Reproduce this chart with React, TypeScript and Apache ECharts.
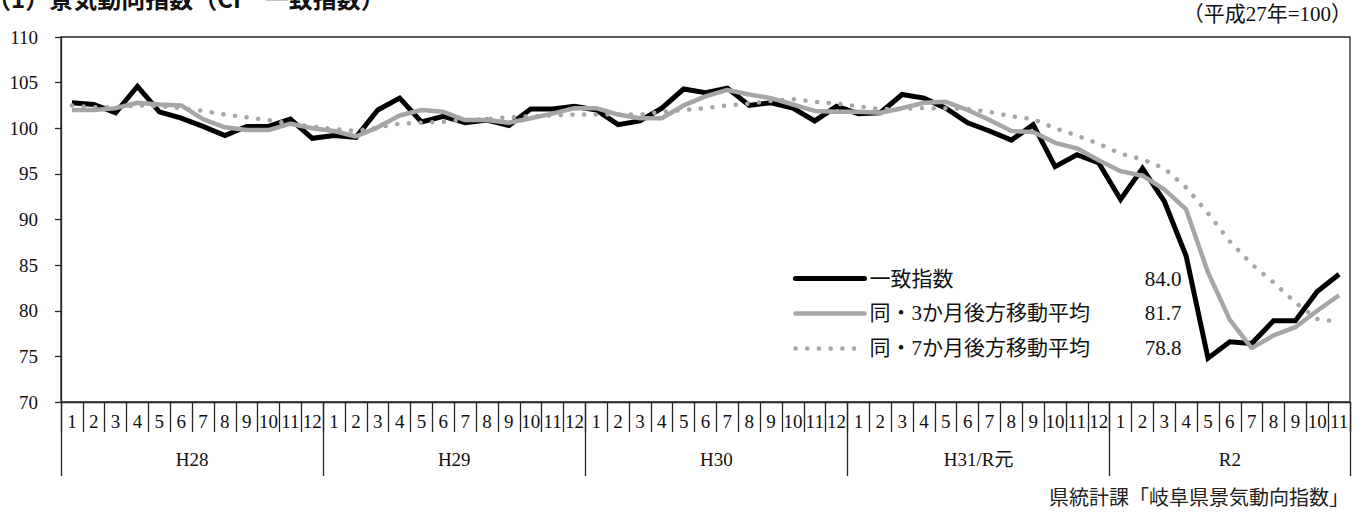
import React, { useEffect, useRef } from "react";
import * as echarts from "echarts";

// ---- data ----
const years = ["H28", "H29", "H30", "H31/R元", "R2"];
const monthsPerYear = [12, 12, 12, 12, 11];
const monthLabels: string[] = monthsPerYear.flatMap((n) =>
  Array.from({ length: n }, (_, k) => String(k + 1))
);

const seriesNames = ["一致指数", "同・3か月後方移動平均", "同・7か月後方移動平均"];

// CI coincident index
const ci = [
  102.8, 102.6, 101.7, 104.6, 101.8, 101.1, 100.2, 99.2, 100.2, 100.2, 101.0, 98.9,
  99.2, 99.0, 102.0, 103.3, 100.7, 101.3, 100.6, 100.9, 100.3, 102.1, 102.1, 102.4,
  102.0, 100.4, 100.8, 102.2, 104.3, 103.9, 104.4, 102.5, 102.8, 102.2, 100.8, 102.4,
  101.6, 101.7, 103.7, 103.3, 102.2, 100.6, 99.7, 98.7, 100.4, 95.8, 97.1, 96.2,
  92.2, 95.6, 92.0, 86.0, 74.8, 76.6, 76.4, 78.9, 78.9, 82.1, 84.0,
];
// 3-month backward moving average
const ma3 = [
  102.0, 102.0, 102.2, 102.8, 102.6, 102.5, 101.0, 100.1, 99.8, 99.8, 100.5, 100.0,
  99.7, 99.1, 100.1, 101.4, 102.0, 101.8, 100.9, 100.9, 100.6, 101.1, 101.6, 102.2,
  102.2, 101.5, 101.1, 101.1, 102.5, 103.5, 104.2, 103.7, 103.3, 102.6, 101.9, 101.8,
  101.8, 101.7, 102.2, 102.8, 102.9, 102.0, 100.9, 99.7, 99.6, 98.4, 97.8, 96.5,
  95.3, 94.8, 93.3, 91.1, 84.2, 79.0, 75.9, 77.3, 78.2, 80.0, 81.7,
];
// 7-month backward moving average
const ma7 = [
  102.5, 102.3, 102.3, 102.5, 102.4, 102.2, 101.9, 101.5, 101.2, 100.9, 100.5, 100.2,
  99.9, 99.7, 100.1, 100.5, 100.6, 100.7, 100.9, 101.0, 101.2, 101.3, 101.4, 101.5,
  101.5, 101.5, 101.5, 101.8, 102.0, 102.2, 102.5, 102.7, 103.0, 103.2, 102.9, 102.7,
  102.4, 102.1, 102.1, 102.2, 102.2, 102.1, 101.8, 101.3, 101.0, 100.0, 99.2, 98.3,
  97.2, 96.6, 95.6, 93.5, 90.7, 87.6, 85.1, 83.1, 80.9, 79.1, 78.8,
];

const yMin = 70;
const yMax = 110;
const yStep = 5;

const titleText = "（1）景気動向指数（CI　一致指数）";
const unitText = "（平成27年=100）";
const sourceText = "県統計課「岐阜県景気動向指数」";

export default function App() {
  const ref = useRef<HTMLDivElement>(null);

  useEffect(() => {
    if (!ref.current) return;
    const chart = echarts.init(ref.current, undefined, { renderer: "svg" });

    const serif = "'Liberation Serif', 'Noto Sans CJK JP', serif";
    const sans = "'Noto Sans CJK JP', 'Noto Sans', sans-serif";
    const axisColor = "#262626";
    const lineW = 1.3;

    // year boundaries & centres (in month units) derived from monthsPerYear
    const bounds: number[] = [0];
    monthsPerYear.forEach((n) => bounds.push(bounds[bounds.length - 1] + n));
    const centers = monthsPerYear.map((n, i) => bounds[i] + n / 2);
    const total = bounds[bounds.length - 1];

    const lastVals: Record<string, string> = {
      [seriesNames[0]]: ci[ci.length - 1].toFixed(1),
      [seriesNames[1]]: ma3[ma3.length - 1].toFixed(1),
      [seriesNames[2]]: ma7[ma7.length - 1].toFixed(1),
    };

    const option: any = {
      animation: false,
      backgroundColor: "#ffffff",
      grid: {
        left: 61,
        right: 13,
        top: 37,
        bottom: 113,
        show: true,
        borderColor: axisColor,
        borderWidth: lineW,
        backgroundColor: "transparent",
      },
      xAxis: [
        {
          type: "category",
          data: monthLabels,
          boundaryGap: true,
          position: "bottom",
          axisLine: { show: true, lineStyle: { color: axisColor, width: lineW } },
          axisTick: {
            show: true,
            interval: 0,
            length: 30,
            lineStyle: { color: axisColor, width: lineW },
          },
          axisLabel: {
            interval: 0,
            margin: 10,
            color: "#111",
            fontSize: 19,
            fontFamily: serif,
          },
          splitLine: { show: false },
        },
        {
          type: "value",
          min: 0,
          max: total,
          position: "bottom",
          axisLine: { show: false },
          axisTick: {
            show: true,
            customValues: bounds,
            length: 74,
            lineStyle: { color: axisColor, width: lineW },
          },
          axisLabel: {
            customValues: centers,
            formatter: (v: number) => {
              const idx = centers.findIndex((c) => Math.abs(c - v) < 1e-6);
              return idx >= 0 ? years[idx] : "";
            },
            margin: 48,
            color: "#111",
            fontSize: 19,
            fontFamily: serif,
          },
          splitLine: { show: false },
        },
      ],
      yAxis: {
        type: "value",
        min: yMin,
        max: yMax,
        interval: yStep,
        axisLine: { show: true, lineStyle: { color: axisColor, width: lineW } },
        axisTick: { show: true, length: 6, lineStyle: { color: axisColor, width: lineW } },
        axisLabel: { margin: 23, color: "#111", fontSize: 19, fontFamily: serif },
        splitLine: { show: false },
      },
      legend: {
        orient: "vertical",
        left: 788,
        top: 263,
        itemWidth: 69,
        itemHeight: 14,
        itemGap: 14,
        data: seriesNames,
        itemStyle: { opacity: 0 },
        lineStyle: { width: "inherit", cap: "round" },
        formatter: (name: string) => `{n|${name}}{v|${lastVals[name]}}`,
        textStyle: {
          color: "#111",
          fontFamily: serif,
          fontSize: 21,
          rich: {
            n: { width: 256, fontSize: 21, fontFamily: serif, color: "#111", lineHeight: 20 },
            v: { width: 56, align: "right", fontSize: 21, fontFamily: serif, color: "#111", lineHeight: 20 },
          },
        },
      },
      graphic: [
        {
          type: "text",
          x: -13,
          y: -15,
          style: {
            text: titleText,
            font: `bold 24px ${sans}`,
            fill: "#111",
            textVerticalAlign: "top",
          },
        },
        {
          type: "text",
          right: 11,
          top: 3,
          style: { text: unitText, font: `21px ${serif}`, fill: "#111" },
        },
        {
          type: "text",
          right: 14,
          top: 486,
          style: { text: sourceText, font: `20px ${sans}`, fill: "#222" },
        },
      ],
      series: [
        {
          name: seriesNames[0],
          type: "line",
          data: ci,
          symbol: "none",
          lineStyle: { color: "#000000", width: 5, join: "miter" },
          itemStyle: { color: "#000000" },
        },
        {
          name: seriesNames[1],
          type: "line",
          data: ma3,
          symbol: "none",
          lineStyle: { color: "#a6a6a6", width: 4.5 },
          itemStyle: { color: "#a6a6a6" },
        },
        {
          name: seriesNames[2],
          type: "line",
          data: ma7,
          symbol: "none",
          lineStyle: { color: "#a6a6a6", width: 4.5, type: [0.1, 11.6], cap: "round" },
          itemStyle: { color: "#a6a6a6" },
        },
      ],
    };

    chart.setOption(option);
    return () => chart.dispose();
  }, []);

  return (
    <div
      ref={ref}
      style={{ position: "absolute", left: 0, top: 0, width: 1363, height: 515 }}
    />
  );
}
